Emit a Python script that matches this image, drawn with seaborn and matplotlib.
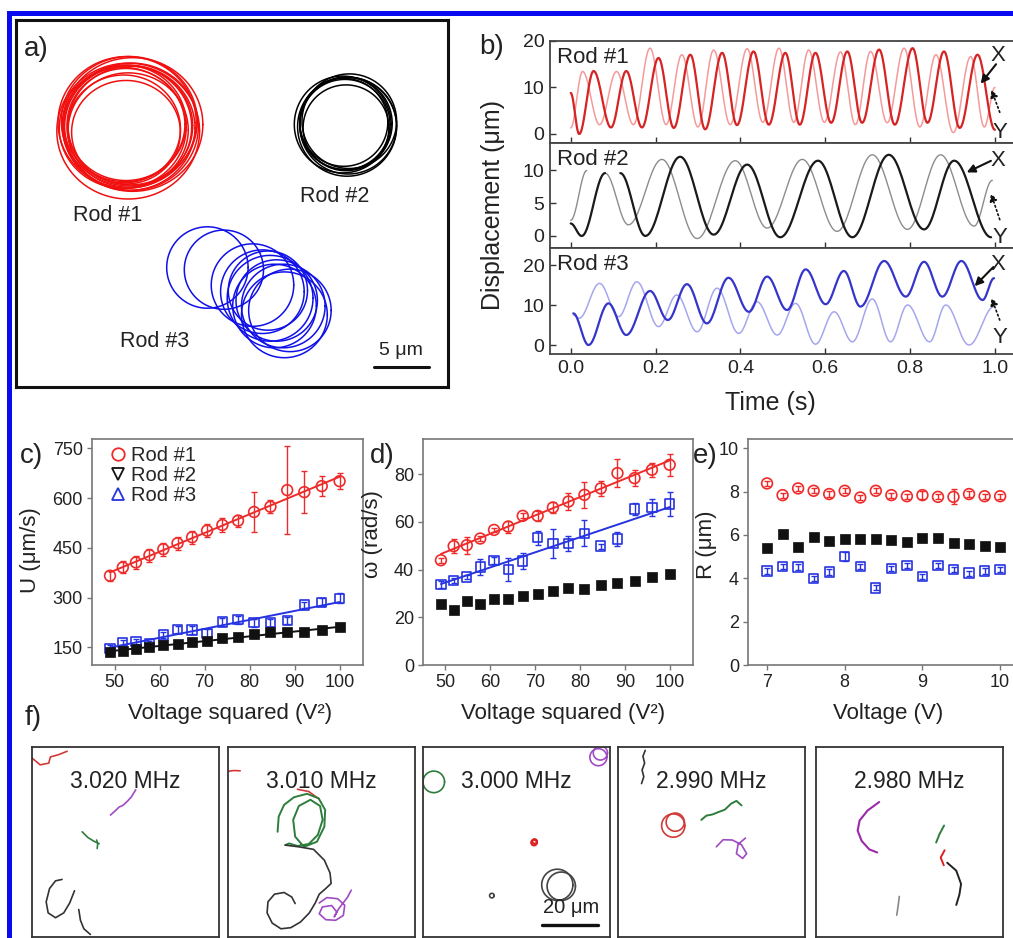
import numpy as np
import matplotlib
matplotlib.use("Agg")
import matplotlib.pyplot as plt
import seaborn as sns
from matplotlib.lines import Line2D
from matplotlib.patches import Rectangle

sns.set_theme(style="white")
plt.rcParams["font.family"] = ["Liberation Sans", "DejaVu Sans"]
plt.rcParams["mathtext.default"] = "regular"

# ---------------- data ----------------
# panel a: loop centres / radii (um)
r1_cx = [10.0, 10.3, 10.1, 9.8, 10.4, 10.2, 9.9, 10.5, 10.0, 10.3, 9.7, 10.2, 10.6, 10.1]
r1_cy = [9.5, 9.8, 9.3, 9.9, 9.6, 10.1, 9.4, 9.7, 10.2, 9.2, 9.8, 10.0, 9.5, 9.7]
r1_r = [5.2, 5.8, 6.1, 5.0, 5.5, 6.3, 5.4, 5.9, 4.8, 6.0, 5.6, 5.3, 6.2, 5.7]
r2_cx = [30.0, 30.2, 29.8, 30.1, 29.9, 30.3, 30.0, 29.7]
r2_cy = [9.4, 9.6, 9.3, 9.7, 9.5, 9.2, 9.8, 9.5]
r2_r = [4.2, 4.4, 4.0, 4.5, 4.1, 4.3, 3.9, 4.4]
r3_cx = [17.4, 18.9, 21.5, 22.4, 23.1, 23.7, 24.3, 24.9, 24.4, 23.5, 22.9]
r3_cy = [22.5, 22.7, 24.1, 24.7, 25.3, 25.5, 26.0, 26.4, 26.8, 26.0, 24.6]
r3_r = [3.7, 3.6, 3.75, 3.8, 3.9, 3.7, 3.8, 3.75, 3.9, 3.8, 3.6]

# panel b: extrema of displacement traces (time s, value um)
t_x1 = [0.000, 0.020, 0.054, 0.095, 0.131, 0.168, 0.207, 0.243, 0.282, 0.317, 0.357, 0.392, 0.431,
        0.467, 0.506, 0.540, 0.577, 0.614, 0.652, 0.687, 0.727, 0.764, 0.806, 0.841, 0.880, 0.917,
        0.959, 1.000]
v_x1 = [8.8, 0.0, 13.5, 1.4, 13.5, 1.4, 16.3, 1.3, 17.0, 1.0, 17.4, 1.9, 17.7, 2.0, 17.4, 2.0, 17.4,
        2.4, 17.7, 2.4, 18.1, 2.0, 18.4, 2.4, 17.7, 1.3, 17.0, 0.9]
t_y1 = [0.000, 0.028, 0.068, 0.108, 0.148, 0.187, 0.225, 0.262, 0.300, 0.337, 0.376, 0.416, 0.453,
        0.491, 0.526, 0.561, 0.598, 0.636, 0.671, 0.707, 0.746, 0.786, 0.823, 0.861, 0.902, 0.943,
        0.975, 1.000]
v_y1 = [1.3, 13.4, 2.0, 13.4, 2.0, 18.4, 2.0, 17.0, 1.5, 18.0, 2.0, 18.3, 2.5, 18.4, 2.5, 18.0, 2.5,
        17.6, 2.0, 17.7, 2.4, 18.4, 1.5, 17.0, 0.3, 16.6, 1.5, 10.0]
t_x2a = [0.000, 0.026, 0.081]
v_x2a = [1.9, 0.0, 9.6]
t_x2b = [0.117, 0.176, 0.258, 0.337, 0.416, 0.494, 0.583, 0.664, 0.750, 0.833, 0.904, 0.991]
v_x2b = [9.6, 0.0, 12.1, 0.2, 10.9, -0.2, 11.5, -0.2, 12.4, 1.0, 11.5, -0.2]
t_y2a = [0.000, 0.038]
v_y2a = [2.4, 10.0]
t_y2b = [0.081, 0.136, 0.215, 0.298, 0.388, 0.463, 0.546, 0.628, 0.711, 0.794, 0.872, 0.951, 0.994]
v_y2b = [9.6, 1.7, 11.7, -0.4, 11.5, 1.2, 11.7, 0.7, 12.4, 1.0, 12.4, 1.5, 8.5]
t_x3 = [0.006, 0.042, 0.089, 0.131, 0.187, 0.229, 0.274, 0.321, 0.372, 0.420, 0.463, 0.510, 0.554,
        0.601, 0.644, 0.683, 0.739, 0.790, 0.833, 0.876, 0.921, 0.971, 0.998]
v_x3 = [7.9, 0.0, 10.4, 2.5, 13.5, 6.25, 15.2, 5.4, 16.8, 8.3, 17.1, 8.75, 18.9, 10.2, 18.5, 9.6,
        21.0, 12.1, 20.8, 12.1, 21.0, 11.25, 16.7]
t_y3 = [0.006, 0.020, 0.068, 0.113, 0.156, 0.207, 0.250, 0.298, 0.345, 0.396, 0.439, 0.487, 0.530,
        0.577, 0.621, 0.664, 0.711, 0.754, 0.794, 0.846, 0.884, 0.939, 0.998]
v_y3 = [7.5, 6.7, 15.4, 7.1, 15.8, 4.6, 12.5, 3.3, 14.2, 2.9, 10.8, 2.5, 10.4, 0.2, 8.3, 0.8, 11.5,
        0.8, 10.0, 0.8, 10.0, 0.0, 9.6]

# panels c-e
voltage = [7.0, 7.2, 7.4, 7.6, 7.8, 8.0, 8.2, 8.4, 8.6, 8.8, 9.0, 9.2, 9.4, 9.6, 9.8, 10.0]
U_rod1 = [366, 391, 406, 428, 446, 464, 482, 502, 519, 532, 558, 574, 624, 618, 636, 651]
U_rod1_err = [15, 18, 20, 20, 20, 20, 20, 20, 20, 18, 60, 20, 132, 64, 30, 25]
U_rod2 = [137, 140, 145, 150, 157, 160, 167, 170, 177, 182, 190, 195, 195, 197, 202, 210]
U_rod3 = [147, 164, 167, 162, 187, 204, 202, 192, 227, 234, 225, 225, 232, 278, 286, 298]
U_rod3_err = [10, 8, 8, 8, 10, 12, 12, 12, 12, 12, 12, 12, 10, 10, 12, 15]
W_rod1 = [43.9, 49.8, 50.2, 53.0, 56.6, 58.0, 62.5, 62.5, 66.0, 68.5, 71.3, 74.0, 80.4, 78.3, 81.8, 83.9]
W_rod1_err = [1, 3, 3.5, 1, 1, 2.5, 1, 2, 2.5, 3.5, 5.5, 3, 6, 3.5, 3, 4.5]
W_rod2 = [25.4, 23.2, 26.8, 25.7, 27.8, 27.8, 28.9, 29.9, 31.0, 32.4, 32.0, 33.4, 34.4, 35.2, 36.9, 38.3]
W_rod3 = [33.8, 35.5, 36.9, 41.1, 43.9, 40.0, 43.6, 53.3, 50.9, 50.9, 55.2, 49.8, 52.8, 65.4, 66.1, 67.5]
W_rod3_err = [1.5, 1, 1, 3.5, 1.5, 5, 3.5, 3, 6, 3, 5.5, 1, 3, 2.5, 3.5, 5]
R_rod1 = [8.38, 7.84, 8.15, 8.04, 7.89, 8.04, 7.73, 8.04, 7.84, 7.79, 7.84, 7.76, 7.76, 7.89, 7.79, 7.79]
R_rod1_err = [0.12, 0.12, 0.12, 0.12, 0.12, 0.12, 0.12, 0.12, 0.12, 0.12, 0.2, 0.12, 0.35, 0.12, 0.12, 0.12]
R_rod2 = [5.42, 6.03, 5.45, 5.91, 5.73, 5.80, 5.80, 5.83, 5.76, 5.68, 5.86, 5.86, 5.65, 5.57, 5.49, 5.45]
R_rod3 = [4.34, 4.55, 4.52, 3.98, 4.29, 5.02, 4.55, 3.56, 4.44, 4.60, 4.10, 4.60, 4.40, 4.24, 4.34, 4.41]
R_rod3_err = [0.12, 0.12, 0.12, 0.12, 0.12, 0.2, 0.12, 0.12, 0.12, 0.12, 0.12, 0.12, 0.12, 0.12, 0.12, 0.12]

# panel f: tracks (um, y downward)
freq_labels = ["3.020 MHz", "3.010 MHz", "3.000 MHz", "2.990 MHz", "2.980 MHz"]
f1_red = ([0, 2.9, 5.9, 6.5, 9.4, 12.4], [3.9, 6.3, 5.7, 3.5, 2.7, 1.5])
f1_purple = ([27.7, 29.5, 30.7, 32.2, 33.6, 35.0, 36.6], [24.0, 22.4, 21.2, 20.5, 19.2, 17.7, 15.1])
f1_green = ([17.7, 19.7, 21.8, 23.7], [29.9, 31.9, 33.2, 34.1])
f1_green_b = ([22.8, 23.2, 23.0], [32.8, 34.2, 35.8])
f1_black = ([10.6, 8.3, 6.2, 5.0, 5.7, 8.3, 11.2, 13.3, 15.0], [46.7, 47.2, 49.9, 54.6, 58.5, 60.2, 58.5, 55.0, 50.7])
f1_black_b = ([16.5, 17.1, 18.3, 20.6], [57.3, 61.1, 64.1, 66.1])
f2_red = ([0, 2.0, 4.3], [8.6, 8.3, 8.4])
f2_red_b = ([24.5, 28.5, 32.2], [14.9, 15.7, 18.4])
f2_green = ([17.5, 17.9, 19.8, 23.3, 27.9, 32.0, 34.3, 34.0, 31.4, 26.8, 23.7, 23.0, 25.0, 29.1, 32.5, 33.4,
             31.7, 28.5, 24.5, 21.6, 20.2],
            [29.9, 24.5, 20.4, 17.7, 16.5, 18.1, 22.2, 28.1, 33.4, 35.2, 31.6, 25.7, 20.8, 18.6, 20.8, 25.7,
             31.0, 34.2, 34.9, 34.0, 34.6])
f2_black = ([20.2, 25.0, 30.2, 34.0, 36.0, 36.4, 34.5, 32.2, 30.8, 28.7, 25.6, 22.2, 18.7, 15.6, 13.8, 14.1,
             16.4, 19.8, 22.5, 23.7],
            [34.6, 35.2, 36.1, 39.9, 44.4, 48.1, 49.9, 51.9, 55.0, 58.5, 61.7, 63.7, 64.1, 62.1, 58.5, 54.6,
             51.9, 51.3, 52.9, 55.2])
f2_purple = ([32.2, 34.9, 38.7, 41.2, 40.7, 38.0, 34.5, 32.2, 33.3, 36.6, 38.4, 37.5, 39.1, 42.1, 43.5],
             [55.0, 53.1, 53.5, 55.8, 59.4, 61.1, 60.9, 58.8, 56.4, 55.9, 58.2, 59.9, 57.0, 53.1, 50.5])
f3_green_loops = [(3.8, 12.3, 3.8)]
f3_purple_loops = [(61.9, 3.6, 3.0), (62.6, 2.1, 2.5)]
f3_red_loops = [(39.2, 33.7, 1.0), (39.4, 33.3, 0.8)]
f3_black_loops = [(24.3, 52.4, 0.8), (47.4, 48.6, 5.5), (48.8, 49.1, 5.0)]
f4_black = ([9.6, 8.8, 9.4, 8.5, 9.1, 8.3], [1.2, 3.3, 5.7, 8.1, 10.5, 12.9])
f4_red_loops = [(19.5, 27.7, 4.1), (20.2, 26.5, 3.2)]
f4_green = ([29.4, 31.2, 33.3, 35.3, 37.7, 39.9, 41.8, 43.6], [25.7, 24.2, 23.8, 23.0, 22.1, 20.0, 19.0, 20.6])
f4_purple = ([34.7, 37.1, 40.4, 43.6, 45.4, 44.0, 41.8, 42.4, 45.0], [35.2, 32.7, 32.8, 34.5, 37.6, 39.3, 37.6, 34.3, 32.1])
f5_purple = ([22.3, 18.2, 15.4, 14.7, 16.1, 18.8, 21.6], [19.4, 22.4, 25.9, 29.5, 33.1, 36.1, 37.2])
f5_green = ([42.4, 43.6, 45.2], [33.7, 30.7, 27.7])
f5_red = ([45.4, 44.0, 45.1], [36.4, 39.0, 41.7])
f5_black = ([46.3, 49.5, 51.2, 50.6, 49.5], [40.8, 43.6, 48.3, 52.1, 55.7])
f5_gray = ([29.4, 29.0, 28.5], [52.7, 55.9, 59.3])

# ---------------- colours ----------------
RED = "#ee2b2b"
BLUE = "#2633e0"
BLACK = "#111111"
GREEN = "#2e7d3c"
PURPLE = "#a04ac4"

W, H = 1013, 938
fig = plt.figure(figsize=(W / 100, H / 100), dpi=100)


def px_axes(x0, y0, x1, y1):
    return fig.add_axes([x0 / W, 1 - y1 / H, (x1 - x0) / W, (y1 - y0) / H])


def line(ax, x, y, **kw):
    sns.lineplot(x=np.asarray(x, float), y=np.asarray(y, float), sort=False, estimator=None,
                 ax=ax, legend=False, **kw)


def loop(ax, cx, cy, r, sx=1.0, sy=1.0, **kw):
    th = np.linspace(0, 2 * np.pi, 120)
    line(ax, cx + r * sx * np.cos(th), cy + r * sy * np.sin(th), **kw)


def cos_path(ts, vs, n=24):
    ts = np.asarray(ts, float)
    vs = np.asarray(vs, float)
    s = np.linspace(0, 1, n, endpoint=False)
    w = (1 - np.cos(np.pi * s)) / 2
    tt = np.concatenate([ts[i] + (ts[i + 1] - ts[i]) * s for i in range(len(ts) - 1)] + [ts[-1:]])
    vv = np.concatenate([vs[i] + (vs[i + 1] - vs[i]) * w for i in range(len(ts) - 1)] + [vs[-1:]])
    return tt, vv


# ---------------- blue frame ----------------
fig.add_artist(Rectangle((7 / W, 1 - 16 / H), 1006 / W, 5 / H, transform=fig.transFigure,
                         facecolor="#0a0af0", edgecolor="none"))
fig.add_artist(Rectangle((7 / W, 0), 5 / W, 1 - 11 / H, transform=fig.transFigure,
                         facecolor="#0a0af0", edgecolor="none"))

# ---------------- panel a ----------------
axa = px_axes(16, 20, 448, 387)
axa.set_xlim(0, 432 / 11)
axa.set_ylim(367 / 11, 0)
axa.set_xticks([])
axa.set_yticks([])
for s in axa.spines.values():
    s.set_color("#111111")
    s.set_linewidth(2.2)
for cx, cy, r in zip(r1_cx, r1_cy, r1_r):
    loop(axa, cx, cy, r, sx=1.03, sy=0.98, color="#f01010", linewidth=1.1)
for cx, cy, r in zip(r2_cx, r2_cy, r2_r):
    loop(axa, cx, cy, r, color="#000000", linewidth=1.1)
for cx, cy, r in zip(r3_cx, r3_cy, r3_r):
    loop(axa, cx, cy, r, color="#1010e8", linewidth=1.1)
axa.text(8.3, 17.8, "Rod #1", ha="center", va="center", fontsize=15.5, color="#222")
axa.text(29.0, 16.0, "Rod #2", ha="center", va="center", fontsize=15.5, color="#222")
axa.text(12.6, 29.2, "Rod #3", ha="center", va="center", fontsize=15.5, color="#222")
line(axa, [32.5, 37.5], [31.5, 31.5], color="#111", linewidth=2.2)
axa.text(35.0, 30.8, "5 μm", ha="center", va="bottom", fontsize=14, color="#222")
axa.text(1.8, 2.6, "a)", ha="center", va="center", fontsize=20, color="#222")

# ---------------- panel b ----------------
b_rows = [(40.7, 143), (143, 248), (248, 354)]
b_ylims = [(-1.93, 20), (-1.84, 14.2), (-2.25, 24.25)]
b_yticks = [[0, 10, 20], [0, 5, 10], [0, 10, 20]]
b_series = [
    [(t_x1, v_x1, "#d62424", 1.6)], [(t_x2a, v_x2a, "#1a1a1a", 1.6), (t_x2b, v_x2b, "#1a1a1a", 1.6)],
    [(t_x3, v_x3, "#3535cc", 1.6)]]
b_series_y = [
    [(t_y1, v_y1, "#f49a9a", 1.1)], [(t_y2a, v_y2a, "#8c8c8c", 1.0), (t_y2b, v_y2b, "#8c8c8c", 1.0)],
    [(t_y3, v_y3, "#a6a6ee", 1.1)]]
rod_names = ["Rod #1", "Rod #2", "Rod #3"]
arrows = [
    dict(xt=(0.963, 0.86), xa=((0.958, 0.77), (0.925, 0.58)), yt=(0.966, 0.10), ya=((0.966, 0.30), (0.948, 0.52))),
    dict(xt=(0.963, 0.83), xa=((0.947, 0.83), (0.895, 0.72)), yt=(0.966, 0.10), ya=((0.966, 0.27), (0.947, 0.52))),
    dict(xt=(0.963, 0.84), xa=((0.952, 0.82), (0.912, 0.64)), yt=(0.966, 0.16), ya=((0.966, 0.32), (0.948, 0.53))),
]
for i, (y0, y1) in enumerate(b_rows):
    ax = px_axes(550, y0, 1015.6, y1)
    for ts, vs, c, lw in b_series_y[i]:
        tt, vv = cos_path(ts, vs)
        line(ax, tt, vv, color=c, linewidth=lw)
    for ts, vs, c, lw in b_series[i]:
        tt, vv = cos_path(ts, vs)
        line(ax, tt, vv, color=c, linewidth=lw)
    ax.set_xlim(-0.0488, 1.0488)
    ax.set_ylim(*b_ylims[i])
    ax.set_yticks(b_yticks[i])
    ax.set_xticks([0.0, 0.2, 0.4, 0.6, 0.8, 1.0])
    ax.tick_params(direction="in", length=4, width=1, colors="#333", labelsize=14,
                   labelcolor="#222", bottom=True, left=True, pad=4)
    if i < 2:
        ax.set_xticklabels([])
    else:
        ax.set_xticklabels(["0.0", "0.2", "0.4", "0.6", "0.8", "1.0"])
    ax.set_xlabel("")
    ax.set_ylabel("")
    for s in ax.spines.values():
        s.set_color("#444")
        s.set_linewidth(1.3)
    ax.text(0.015, 0.84, rod_names[i], transform=ax.transAxes, ha="left", va="center",
            fontsize=16, color="#222")
    a = arrows[i]
    ax.text(*a["xt"], "X", transform=ax.transAxes, ha="center", va="center", fontsize=16, color="#222")
    ax.text(*a["yt"], "Y", transform=ax.transAxes, ha="center", va="center", fontsize=16, color="#222")
    ax.annotate("", xy=a["xa"][1], xytext=a["xa"][0], xycoords="axes fraction",
                arrowprops=dict(arrowstyle="-|>", color="#111", lw=1.5, mutation_scale=12,
                                shrinkA=0, shrinkB=0))
    ax.annotate("", xy=a["ya"][1], xytext=a["ya"][0], xycoords="axes fraction",
                arrowprops=dict(arrowstyle="-|>", color="#111", lw=1.2, ls=":", mutation_scale=11,
                                shrinkA=0, shrinkB=0))

fig.text(493 / W, 1 - 205 / H, "Displacement (μm)", rotation=90, ha="center", va="center",
         fontsize=18, color="#222")
fig.text(770 / W, 1 - 403 / H, "Time (s)", ha="center", va="center", fontsize=18, color="#222")

# ---------------- panels c, d, e ----------------
V2 = [v * v for v in voltage]


def style_small(ax):
    for s in ax.spines.values():
        s.set_color("#777")
        s.set_linewidth(1.2)
    ax.tick_params(direction="out", length=3.5, width=1, colors="#777", labelsize=13,
                   labelcolor="#222", bottom=True, left=True, pad=3)


def points(ax, x, y, yerr, marker, color, filled, s):
    if yerr is not None:
        ax.errorbar(x, y, yerr=yerr, fmt="none", ecolor=color, elinewidth=1.0, capsize=2.5,
                    capthick=1.0, zorder=2)
    if filled:
        sns.scatterplot(x=x, y=y, ax=ax, marker=marker, s=s, color=color, edgecolor=color,
                        linewidth=0.5, zorder=3, legend=False)
    else:
        sns.scatterplot(x=x, y=y, ax=ax, marker=marker, s=s, facecolor="none", edgecolor=color,
                        linewidth=1.2, zorder=3, legend=False)


def fit(ax, x, y, color):
    sns.regplot(x=np.asarray(x, float), y=np.asarray(y, float), ax=ax, scatter=False, ci=None,
                truncate=True, line_kws=dict(color=color, linewidth=1.4, zorder=1))


# c
axc = px_axes(92, 439, 363, 665)
fit(axc, V2, U_rod1, RED)
fit(axc, V2, U_rod3, BLUE)
fit(axc, V2, U_rod2, BLACK)
points(axc, V2, U_rod1, U_rod1_err, "o", RED, False, 60)
points(axc, V2, U_rod3, U_rod3_err, "s", BLUE, False, 45)
points(axc, V2, U_rod2, None, "s", BLACK, True, 45)
axc.set_xlim(45, 105.2)
axc.set_ylim(97, 778)
axc.set_yticks([150, 300, 450, 600, 750])
axc.set_xticks([50, 60, 70, 80, 90, 100])
style_small(axc)
axc.set_xlabel("Voltage squared (V²)", fontsize=16, color="#222")
axc.set_ylabel("U (μm/s)", fontsize=16, color="#222")
axc.xaxis.set_label_coords(0.51, -0.168)
axc.yaxis.set_label_coords(-0.19, 0.51)
handles = [Line2D([], [], ls="none", marker="o", mfc="none", mec=RED, mew=1.3, ms=9),
           Line2D([], [], ls="none", marker="v", mfc="none", mec=BLACK, mew=1.3, ms=9),
           Line2D([], [], ls="none", marker="^", mfc="none", mec=BLUE, mew=1.3, ms=9)]
axc.legend(handles, ["Rod #1", "Rod #2", "Rod #3"], loc="upper left", bbox_to_anchor=(0.045, 0.985),
           frameon=False, fontsize=14.5, handletextpad=0.15, labelspacing=0.05, handlelength=1.0,
           borderaxespad=0.0, borderpad=0.2)

# d
axd = px_axes(423, 439, 693, 665)
fit(axd, V2, W_rod1, RED)
fit(axd, V2, W_rod3, BLUE)
points(axd, V2, W_rod1, W_rod1_err, "o", RED, False, 60)
points(axd, V2, W_rod3, W_rod3_err, "s", BLUE, False, 45)
points(axd, V2, W_rod2, None, "s", BLACK, True, 45)
axd.set_xlim(45, 105.2)
axd.set_ylim(0, 94.7)
axd.set_yticks([0, 20, 40, 60, 80])
axd.set_xticks([50, 60, 70, 80, 90, 100])
style_small(axd)
axd.set_xlabel("Voltage squared (V²)", fontsize=16, color="#222")
axd.set_ylabel("ω (rad/s)", fontsize=16, color="#222")
axd.xaxis.set_label_coords(0.52, -0.168)
axd.yaxis.set_label_coords(-0.15, 0.58)

# e
axe = px_axes(748, 439, 1018, 665)
points(axe, voltage, R_rod1, R_rod1_err, "o", RED, False, 60)
points(axe, voltage, R_rod3, R_rod3_err, "s", BLUE, False, 45)
points(axe, voltage, R_rod2, None, "s", BLACK, True, 45)
axe.set_xlim(6.755, 10.23)
axe.set_ylim(0, 10.43)
axe.set_yticks([0, 2, 4, 6, 8, 10])
axe.set_xticks([7, 8, 9, 10])
style_small(axe)
axe.set_xlabel("Voltage (V)", fontsize=16, color="#222")
axe.set_ylabel("R (μm)", fontsize=16, color="#222")
axe.xaxis.set_label_coords(0.52, -0.168)
axe.yaxis.set_label_coords(-0.115, 0.53)

for lab, (x, y) in zip(["b)", "c)", "d)", "e)", "f)"],
                       [(492, 47), (31, 456), (382, 456), (705, 456), (33, 718)]):
    fig.text(x / W, 1 - y / H, lab, ha="center", va="center", fontsize=20, color="#222")

# ---------------- panel f ----------------
f_lefts = [32, 228, 423, 618, 816]
f_axes = []
for k, x0 in enumerate(f_lefts):
    ax = px_axes(x0, 747, x0 + 187, 937)
    ax.set_xlim(0, 66)
    ax.set_ylim(67, 0)
    ax.set_xticks([])
    ax.set_yticks([])
    for s in ax.spines.values():
        s.set_color("#333")
        s.set_linewidth(1.3)
    ax.text(0.5, 0.82, freq_labels[k], transform=ax.transAxes, ha="center", va="center",
            fontsize=16.5, color="#222")
    f_axes.append(ax)

lw_f = 1.2
ax1, ax2, ax3, ax4, ax5 = f_axes
line(ax1, *f1_red, color="#d23a3a", linewidth=lw_f)
line(ax1, *f1_purple, color=PURPLE, linewidth=lw_f)
line(ax1, *f1_green, color=GREEN, linewidth=lw_f)
line(ax1, *f1_green_b, color=GREEN, linewidth=lw_f)
line(ax1, *f1_black, color="#333", linewidth=lw_f)
line(ax1, *f1_black_b, color="#333", linewidth=lw_f)

line(ax2, *f2_red, color="#d23a3a", linewidth=lw_f)
line(ax2, *f2_red_b, color="#d23a3a", linewidth=lw_f)
line(ax2, *f2_green, color=GREEN, linewidth=lw_f + 0.2)
line(ax2, *f2_black, color="#333", linewidth=lw_f)
line(ax2, *f2_purple, color=PURPLE, linewidth=lw_f)

for cx, cy, r in f3_green_loops:
    loop(ax3, cx, cy, r, color=GREEN, linewidth=lw_f)
for cx, cy, r in f3_purple_loops:
    loop(ax3, cx, cy, r, color=PURPLE, linewidth=lw_f)
for cx, cy, r in f3_red_loops:
    loop(ax3, cx, cy, r, color="#e02020", linewidth=lw_f + 0.3)
for cx, cy, r in f3_black_loops:
    loop(ax3, cx, cy, r, color="#444", linewidth=lw_f)
line(ax3, [41.9, 61.9], [62.8, 62.8], color="#111", linewidth=2.4)
ax3.text(52.3, 60.0, "20 μm", ha="center", va="bottom", fontsize=14.5, color="#222")

line(ax4, *f4_black, color="#333", linewidth=lw_f)
for cx, cy, r in f4_red_loops:
    loop(ax4, cx, cy, r, color="#d23a3a", linewidth=lw_f)
line(ax4, *f4_green, color=GREEN, linewidth=lw_f + 0.2)
line(ax4, *f4_purple, color=PURPLE, linewidth=lw_f)

line(ax5, *f5_purple, color="#9a2aa8", linewidth=lw_f + 0.3)
line(ax5, *f5_green, color=GREEN, linewidth=lw_f + 0.2)
line(ax5, *f5_red, color="#e02020", linewidth=lw_f + 0.2)
line(ax5, *f5_black, color="#222", linewidth=lw_f + 0.2)
line(ax5, *f5_gray, color="#888", linewidth=lw_f)

fig.savefig("out.png", dpi=100)
